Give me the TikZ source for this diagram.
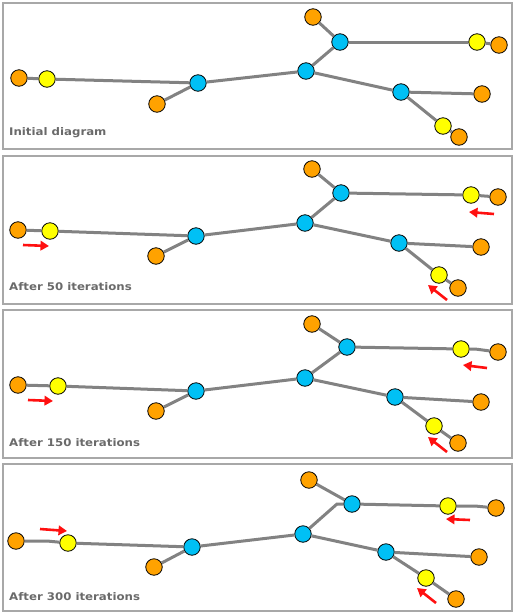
\documentclass[tikz,border=0pt]{standalone}
\usepackage{fontspec}
\setmainfont{DejaVu Sans}
\newfontfamily\lblfont[FakeStretch=1.12]{DejaVu Sans}
\usetikzlibrary{arrows.meta}
\definecolor{nodeorange}{HTML}{FFA200}
\definecolor{nodeyellow}{HTML}{FFFF00}
\definecolor{nodeblue}{HTML}{00C0F5}
\definecolor{edgegray}{HTML}{828282}
\definecolor{framegray}{HTML}{A8A8A8}
\definecolor{labelgray}{HTML}{6A6A6A}
\definecolor{arrowred}{HTML}{FF1010}
\tikzset{
  vtx/.style={circle,draw=black,line width=0.8pt,minimum size=16.5pt,inner sep=0pt},
  orn/.style={vtx,fill=nodeorange},
  yel/.style={vtx,fill=nodeyellow},
  blu/.style={vtx,fill=nodeblue},
  edge/.style={draw=edgegray,line width=3pt},
  frame/.style={draw=framegray,line width=2pt},
  lbl/.style={anchor=west,inner sep=0pt,text=labelgray,font=\lblfont\fontsize{10.5}{12}\selectfont\bfseries},
  mv/.style={draw=arrowred,line width=2.6pt,-{Triangle[length=8.5pt,width=9.5pt]}}
}
\begin{document}
\begin{tikzpicture}[x=1pt,y=-1pt]
\useasboundingbox (0,0) rectangle (515,614);
\fill[white] (0,0) rectangle (515,614);
% frames
\draw[frame] (3,3) rectangle (512,149);
\draw[frame] (3,156) rectangle (512,304);
\draw[frame] (3,310) rectangle (512,458);
\draw[frame] (3,464) rectangle (512,611);

% ---------- Panel 1 ----------
\node[orn] (aO1) at (19,78) {};
\node[yel] (aY1) at (47,79) {};
\node[blu] (aB1) at (198,83) {};
\node[orn] (aO2) at (157,104) {};
\node[blu] (aB2) at (306,71) {};
\node[blu] (aB3) at (340,42) {};
\node[orn] (aO3) at (313,17) {};
\node[yel] (aY2) at (477,42) {};
\node[orn] (aO4) at (499,45) {};
\node[blu] (aB4) at (401,92) {};
\node[orn] (aO5) at (482,94) {};
\node[yel] (aY3) at (443,126) {};
\node[orn] (aO6) at (459,137) {};
\draw[edge] (aO1) -- (aY1);
\draw[edge] (aY1) -- (aB1);
\draw[edge] (aB1) -- (aO2);
\draw[edge] (aB1) -- (aB2);
\draw[edge] (aB2) -- (aB3);
\draw[edge] (aB3) -- (aO3);
\draw[edge] (aB3) -- (aY2);
\draw[edge] (aY2) -- (aO4);
\draw[edge] (aB2) -- (aB4);
\draw[edge] (aB4) -- (aO5);
\draw[edge] (aB4) -- (aY3);
\draw[edge] (aY3) -- (aO6);
\node[lbl] (aL) at (9,133) {Initial diagram};

% ---------- Panel 2 ----------
\node[orn] (bO1) at (18,230) {};
\node[yel] (bY1) at (50,231) {};
\node[blu] (bB1) at (196,236) {};
\node[orn] (bO2) at (156,256) {};
\node[blu] (bB2) at (305,223) {};
\node[blu] (bB3) at (341,193) {};
\node[orn] (bO3) at (312,169) {};
\node[yel] (bY2) at (471,195) {};
\node[orn] (bO4) at (498,197) {};
\node[blu] (bB4) at (399,243) {};
\node[orn] (bO5) at (481,247) {};
\node[yel] (bY3) at (439,275) {};
\node[orn] (bO6) at (458,288) {};
\draw[edge] (bO1) -- (bY1);
\draw[edge] (bY1) -- (bB1);
\draw[edge] (bB1) -- (bO2);
\draw[edge] (bB1) -- (bB2);
\draw[edge] (bB2) -- (bB3);
\draw[edge] (bB3) -- (bO3);
\draw[edge] (bB3) -- (bY2);
\draw[edge] (bY2) -- (bO4);
\draw[edge] (bB2) -- (bB4);
\draw[edge] (bB4) -- (bO5);
\draw[edge] (bB4) -- (bY3);
\draw[edge] (bY3) -- (bO6);
\coordinate (bA1s) at (23,245); \coordinate (bA1e) at (49,246);
\coordinate (bA2s) at (494,214); \coordinate (bA2e) at (469,212);
\coordinate (bA3s) at (447,300); \coordinate (bA3e) at (428,285);
\draw[mv] (bA1s) -- (bA1e);
\draw[mv] (bA2s) -- (bA2e);
\draw[mv] (bA3s) -- (bA3e);
\node[lbl] (bL) at (9,287) {After 50 iterations};

% ---------- Panel 3 ----------
\node[orn] (cO1) at (18,385) {};
\node[yel] (cY1) at (58,386) {};
\node[blu] (cB1) at (196,391) {};
\node[orn] (cO2) at (156,411) {};
\node[blu] (cB2) at (305,378) {};
\node[blu] (cB3) at (347,347) {};
\node[orn] (cO3) at (312,324) {};
\node[yel] (cY2) at (461,349) {};
\node[orn] (cO4) at (498,352) {};
\node[blu] (cB4) at (395,397) {};
\node[orn] (cO5) at (481,402) {};
\node[yel] (cY3) at (434,426) {};
\node[orn] (cO6) at (458,443) {};
\coordinate (cK1) at (475,349);
\draw[edge] (cO1) -- (cY1);
\draw[edge] (cY1) -- (cB1);
\draw[edge] (cB1) -- (cO2);
\draw[edge] (cB1) -- (cB2);
\draw[edge] (cB2) -- (cB3);
\draw[edge] (cB3) -- (cO3);
\draw[edge] (cB3) -- (cY2);
\draw[edge] (cY2) -- (cK1) -- (cO4);
\draw[edge] (cB2) -- (cB4);
\draw[edge] (cB4) -- (cO5);
\draw[edge] (cB4) -- (cY3);
\draw[edge] (cY3) -- (cO6);
\coordinate (cA1s) at (28,400); \coordinate (cA1e) at (53,401);
\coordinate (cA2s) at (487,368); \coordinate (cA2e) at (463,365);
\coordinate (cA3s) at (447,452); \coordinate (cA3e) at (428,437);
\draw[mv] (cA1s) -- (cA1e);
\draw[mv] (cA2s) -- (cA2e);
\draw[mv] (cA3s) -- (cA3e);
\node[lbl] (cL) at (9,443) {After 150 iterations};

% ---------- Panel 4 ----------
\node[orn] (dO1) at (16,541) {};
\node[yel] (dY1) at (68,543) {};
\node[blu] (dB1) at (192,547) {};
\node[orn] (dO2) at (154,567) {};
\node[blu] (dB2) at (303,534) {};
\node[blu] (dB3) at (352,504) {};
\node[orn] (dO3) at (309,480) {};
\node[yel] (dY2) at (448,506) {};
\node[orn] (dO4) at (496,508) {};
\node[blu] (dB4) at (386,552) {};
\node[orn] (dO5) at (479,557) {};
\node[yel] (dY3) at (426,578) {};
\node[orn] (dO6) at (456,599) {};
\coordinate (dK1) at (47,541);
\coordinate (dK2) at (337,504);
\coordinate (dK3) at (475,506);
\draw[edge] (dO1) -- (dK1) -- (dY1);
\draw[edge] (dY1) -- (dB1);
\draw[edge] (dB1) -- (dO2);
\draw[edge] (dB1) -- (dB2);
\draw[edge] (dB2) -- (dK2) -- (dB3);
\draw[edge] (dB3) -- (dO3);
\draw[edge] (dB3) -- (dY2);
\draw[edge] (dY2) -- (dK3) -- (dO4);
\draw[edge] (dB2) -- (dB4);
\draw[edge] (dB4) -- (dO5);
\draw[edge] (dB4) -- (dY3);
\draw[edge] (dY3) -- (dO6);
\coordinate (dA1s) at (40,529); \coordinate (dA1e) at (67,531);
\coordinate (dA2s) at (470,520); \coordinate (dA2e) at (446,519);
\coordinate (dA3s) at (436,603); \coordinate (dA3e) at (417,588);
\draw[mv] (dA1s) -- (dA1e);
\draw[mv] (dA2s) -- (dA2e);
\draw[mv] (dA3s) -- (dA3e);
\node[lbl] (dL) at (9,597) {After 300 iterations};
\end{tikzpicture}
\end{document}
